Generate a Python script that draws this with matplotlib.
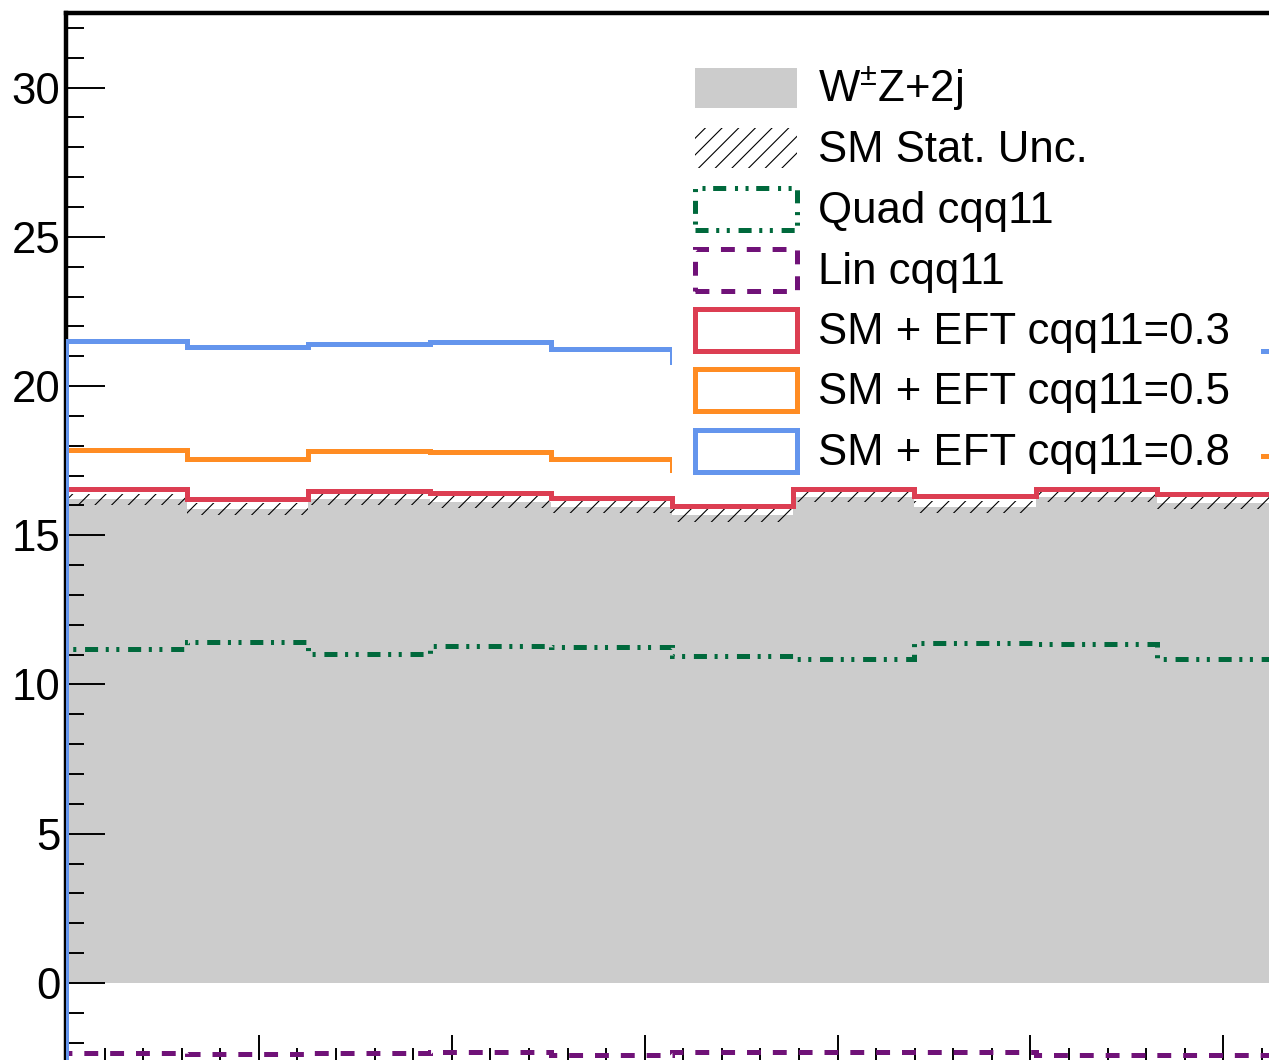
import matplotlib
matplotlib.use("Agg")
import matplotlib.pyplot as plt
import numpy as np
from matplotlib.patches import Rectangle
from matplotlib.ticker import MultipleLocator

plt.rcParams['font.family'] = ['Liberation Sans', 'DejaVu Sans']
plt.rcParams['mathtext.fontset'] = 'custom'
plt.rcParams['mathtext.rm'] = 'Liberation Sans'
plt.rcParams['mathtext.it'] = 'Liberation Sans:italic'
plt.rcParams['mathtext.bf'] = 'Liberation Sans:bold'
plt.rcParams['lines.scale_dashes'] = False
plt.rcParams['hatch.linewidth'] = 0.8

# ---------------- data (10 bins from 0 to pi) ----------------
n_bins = 10
x_min, x_max = 0.0, np.pi
sm_values = [16.21, 15.88, 16.21, 16.11, 15.95, 15.67, 16.28, 15.95, 16.28, 16.08]
sm_errors = [0.18, 0.20, 0.18, 0.19, 0.19, 0.22, 0.18, 0.19, 0.18, 0.19]
quad_values = [11.19, 11.41, 11.01, 11.30, 11.26, 10.95, 10.86, 11.39, 11.36, 10.86]
lin_values = [-2.36, -2.37, -2.35, -2.30, -2.42, -2.30, -2.30, -2.31, -2.42, -2.42]
eft03_values = [16.54, 16.20, 16.48, 16.42, 16.25, 15.98, 16.55, 16.32, 16.55, 16.38]
eft05_values = [17.86, 17.55, 17.82, 17.79, 17.55, 17.19, 17.85, 17.64, 17.91, 17.65]
eft08_values = [21.51, 21.31, 21.41, 21.47, 21.24, 20.80, 21.39, 21.39, 21.61, 21.17]

legend_labels = [r"W$^{\pm}$Z+2j", "SM Stat. Unc.", "Quad cqq11", "Lin cqq11",
                 "SM + EFT cqq11=0.3", "SM + EFT cqq11=0.5", "SM + EFT cqq11=0.8"]

c_grey = "#cccccc"
c_green = "#00693c"
c_purple = "#701278"
c_red = "#dc3e52"
c_orange = "#ff8c23"
c_blue = "#6495ed"

W, H = 1269, 1060
fig = plt.figure(figsize=(W / 100, H / 100), dpi=100)
y_lo = -2.75
ax = fig.add_axes([66 / W, (H - 1065) / H, 1212 / W, (1065 - 13) / H])
ax.set_axisbelow(False)

edges = np.linspace(x_min, x_max, n_bins + 1)
centers = 0.5 * (edges[:-1] + edges[1:])
bw = edges[1] - edges[0]
sm = np.array(sm_values)
err = np.array(sm_errors)

lw = 3.6
dash_dot = (0, (9.4, 5.5, 2.2, 5.4, 2.2, 6.3))
dashed = (0, (10.0, 8.6))

ax.stairs(sm, edges, baseline=0, fill=True, color=c_grey, lw=0, zorder=1)
ax.bar(centers, 2 * err, bottom=sm - err, width=bw, fill=False, hatch='//',
       edgecolor='black', linewidth=0, zorder=1.5)

base = -50
ax.stairs(quad_values, edges, baseline=base, color=c_green, lw=lw, ls=dash_dot, zorder=3)
ax.stairs(lin_values, edges, baseline=base, color=c_purple, lw=lw, ls=dashed, zorder=3)
ax.stairs(eft03_values, edges, baseline=base, color=c_red, lw=lw, zorder=3.1)
ax.stairs(eft05_values, edges, baseline=base, color=c_orange, lw=lw, zorder=3.2)
ax.stairs(eft08_values, edges, baseline=base, color=c_blue, lw=lw, zorder=3.3)
for a in ax.patches:
    a.set_joinstyle('miter')
    a.set_capstyle('butt')

ax.set_xlim(x_min, x_max)
ax.set_ylim(y_lo, 32.5)

ax.yaxis.set_major_locator(MultipleLocator(5))
ax.yaxis.set_minor_locator(MultipleLocator(1))
ax.xaxis.set_major_locator(MultipleLocator(0.5))
ax.xaxis.set_minor_locator(MultipleLocator(0.1))
ax.tick_params(axis='y', which='major', direction='in', length=28, width=1.4,
               labelsize=31.5, pad=4)
ax.tick_params(axis='y', which='minor', direction='in', length=13, width=1.4)
ax.tick_params(axis='x', which='major', direction='in', length=21.5, width=1.4,
               labelbottom=False)
ax.tick_params(axis='x', which='minor', direction='in', length=12.2, width=1.4)
for s in ax.spines.values():
    s.set_linewidth(3.2)

# ---------------- legend ----------------
def fr(x0, y0, x1, y1, **kw):
    return Rectangle((x0 / W, 1 - y1 / H), (x1 - x0) / W, (y1 - y0) / H,
                     transform=fig.transFigure, **kw)

fig.add_artist(fr(672, 50, 1261, 482, facecolor='white', edgecolor='none', zorder=5))

centers_y = [88.5, 148, 209, 270, 330, 390, 451]
fig.add_artist(fr(695, 68, 797, 108, facecolor=c_grey, edgecolor='none', zorder=6))
fig.add_artist(fr(695, 128, 797, 168, fill=False, hatch='//', edgecolor='black',
                  linewidth=0, zorder=6))
styles = [(c_green, dash_dot), (c_purple, dashed), (c_red, '-'), (c_orange, '-'), (c_blue, '-')]
for (col, ls), cy in zip(styles, centers_y[2:]):
    r = fr(694.5, cy - 21, 796.5, cy + 21, fill=False, edgecolor=col, lw=lw,
           ls=ls, zorder=6)
    r.set_joinstyle('miter')
    fig.add_artist(r)

for lab, cy in zip(legend_labels, centers_y):
    fig.text(818 / W, 1 - (cy + 14) / H, lab, fontsize=31.5, ha='left',
             va='baseline', zorder=7)

fig.savefig("out.png", dpi=100)
